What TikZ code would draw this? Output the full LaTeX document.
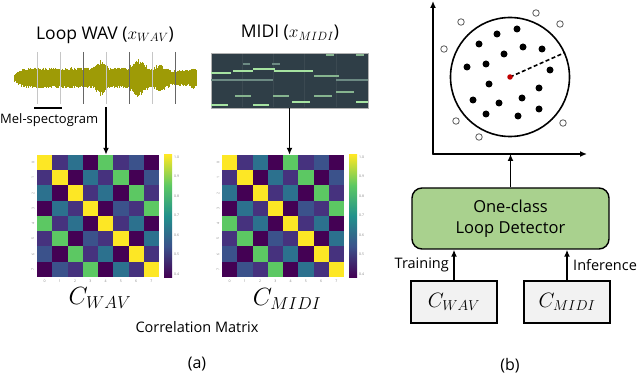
\documentclass[tikz,border=0pt]{standalone}
\usepackage{fontspec}
\setmainfont{Open Sans}
\usepackage{tikz}
\usetikzlibrary{arrows.meta,positioning,calc}
\definecolor{vir0}{HTML}{440154}
\definecolor{vir1}{HTML}{46327E}
\definecolor{vir2}{HTML}{3B528B}
\definecolor{vir3}{HTML}{2C718E}
\definecolor{virmid}{HTML}{21918C}
\definecolor{vir4}{HTML}{5CC863}
\definecolor{vir5}{HTML}{FDE725}
\definecolor{wavegold}{HTML}{9E9B06}
\definecolor{rollbg}{HTML}{2F3E47}
\definecolor{notehi}{HTML}{A6E3A1}
\definecolor{notemid}{HTML}{86B48F}
\definecolor{notelo}{HTML}{6C8A83}
\definecolor{detgreen}{HTML}{A9D18E}
\definecolor{boxgrey}{HTML}{F2F2F2}
\definecolor{centre}{HTML}{C00000}
\pgfdeclareverticalshading{viridisbar}{100bp}{color(0bp)=(vir0); color(25bp)=(vir0); color(37.5bp)=(vir2); color(50bp)=(virmid); color(62.5bp)=(vir4); color(75bp)=(vir5); color(100bp)=(vir5)}

\begin{document}
\begin{tikzpicture}[x=1pt, y=-1pt,
  arr/.style={line width=1.8pt, -{Latex[length=7pt,width=6pt]}},
  head/.style={font=\fontsize{17.5}{20}\selectfont},
  lbl/.style={font=\fontsize{14.5}{16}\selectfont},
  tick/.style={font=\fontsize{3.5}{4}\selectfont, text=gray, inner sep=0pt},
  cname/.style={font=\fontsize{23}{25}\selectfont},
  matbox/.style={inner sep=0pt, minimum size=122pt},
  rollbox/.style={fill=rollbg, draw=gray!60, line width=0.4pt, minimum width=157pt, minimum height=55pt, inner sep=0pt},
  detector/.style={draw, line width=1.4pt, fill=detgreen, rounded corners=10pt, minimum width=197pt, minimum height=61pt, align=center, font=\fontsize{16.5}{21}\selectfont},
  cbox/.style={draw, line width=1.3pt, fill=boxgrey, minimum width=86pt, minimum height=42pt, font=\fontsize{20}{22}\selectfont},
  inlier/.style={circle, fill=black, inner sep=0pt, minimum size=7pt},
  outlier/.style={circle, draw=gray!70!black, fill=white, line width=0.8pt, inner sep=0pt, minimum size=6.5pt}
]
  \useasboundingbox (0,0) rectangle (640,374);

  % (a) loop waveform
  \node[head] (wavtitle) at (105,35) {Loop WAV ($x_{WAV}$)};
  \pgfmathsetseed{42}
  \foreach \x in {14,14.7,...,197} {
    \pgfmathsetmacro{\env}{((\x<24) ? (3+(\x-14)*0.8) : ((\x>170) ? 8 : 10.5)) + 8*max(0,1-abs(\x-101)/8) + 10*max(0,1-abs(\x-138)/11) + 4*max(0,1-abs(\x-160)/7) + 4*max(0,1-abs(\x-193)/4)}
    \pgfmathsetmacro{\up}{\env*(0.72+0.28*rnd)}
    \pgfmathsetmacro{\dn}{\env*(0.72+0.28*rnd)}
    \draw[wavegold, line width=1pt] (\x,78-\up) -- (\x,78+\dn);
  }
  \foreach \bx/\bc in {37/gray!45, 60/gray!45, 83/gray!80!black, 106/gray!45, 129/gray!80!black, 152/gray!45, 175/gray!80!black}
    \draw[\bc, line width=1pt] (\bx,52) -- (\bx,104);
  \draw[line width=1.7pt] (34,108) -- (62,108);
  \node[anchor=west, inner sep=0pt, font=\fontsize{13}{15}\selectfont] (mel) at (0,120) {Mel-spectogram};
  \coordinate (wavtap) at (106,107);

  % (a) piano roll
  \node[head] (midititle) at (290,33) {MIDI ($x_{MIDI}$)};
  \node[rollbox] (roll) at (289.5,80.5) {};
  \foreach \gx in {242,273,304,336}
    \draw[white, opacity=0.06, line width=0.4pt] (\gx,53.5) -- (\gx,107.5);
  \foreach \ax/\bx/\ny/\nc in {243/250/64/notelo, 272/280/64/notelo, 253/275/69/notehi, 233/253/71/notehi, 274/313/71/notehi, 211/231/73/notehi, 211/273/80/notelo, 314/339/76/notemid, 336/368/80/notelo, 336/354/92/notemid, 235/251/96/notemid, 273/289/96/notemid, 314/332/96/notemid, 292/310/102/notehi, 356/368/102/notehi, 211/228/105/notehi, 253/269/105/notehi, 326/334/55/notemid, 356/364/55/notemid}
    \draw[\nc, line width=1.8pt] (\ax,\ny) -- (\bx,\ny);

  % (a) correlation matrices
  \node[matbox] (matwav) at (98,216) {};
  \node[matbox] (matmidi) at (283,216) {};
  \foreach \mx in {37,222} {
    \foreach \row [count=\r from 0] in {{5,1,3,0,4,1,2,0},{1,5,0,3,1,4,0,2},{3,0,5,1,3,0,4,1},{0,3,1,5,0,2,1,4},{4,1,3,0,5,1,3,0},{1,4,0,2,1,5,0,3},{2,0,4,1,3,0,5,1},{0,2,1,4,0,3,1,5}} {
      \foreach \v [count=\c from 0] in \row
        \fill[vir\v] ({\mx+\c*15.25},{155+\r*15.25}) rectangle ++(15.25,15.25);
    }
    \foreach \k in {0,...,7} {
      \node[tick] at ({\mx+7.6+\k*15.25},281) {\k};
      \node[tick, rotate=90] at ({\mx-4},{162.6+\k*15.25}) {\k};
    }
    \shade[shading=viridisbar] ({\mx+127},155) rectangle ({\mx+135},277);
    \foreach \t [count=\i from 0] in {1.0,0.9,0.8,0.7,0.6,0.5,0.4}
      \node[tick, anchor=west] at ({\mx+137},{157+\i*19.5}) {\t};
  }
  \draw[arr] (wavtap) -- (wavtap |- matwav.north);
  \draw[arr] (roll.south) -- (roll.south |- matmidi.north);
  \node[cname] (cwavname) at (100,298) {$C_{WAV}$};
  \node[cname] (cmidiname) at (287,299) {$C_{MIDI}$};
  \node[lbl] (corr) at (197,327) {Correlation Matrix};
  \node[font=\fontsize{16}{18}\selectfont] (capa) at (197,364) {(a)};

  % (b) feature space
  \coordinate (origin) at (433,154);
  \coordinate (ytip) at (433,1);
  \coordinate (xtip) at (587,154);
  \draw[arr, line cap=round] (origin) -- (ytip);
  \draw[arr, line cap=round] (origin) -- (xtip);
  \node[circle, draw, line width=1.6pt, minimum size=119pt, inner sep=0pt] (ball) at (510,77) {};
  \foreach \px/\py in {497/34, 517/29, 479/44, 523/47, 542/49, 504/54, 467/67, 486/64, 550/70, 489/84, 539/88, 473/100, 499/103, 522/98, 539/109, 486/114, 518/116}
    \node[inlier] at (\px,\py) {};
  \foreach \px/\py in {461/22, 536/13, 560/24, 444/49, 456/121, 563/123, 479/137}
    \node[outlier] at (\px,\py) {};
  \draw[line width=1.6pt, dash pattern=on 4pt off 2.5pt] (ball.center) -- (ball.24);
  \node[circle, fill=centre, inner sep=0pt, minimum size=5.5pt] (ctr) at (ball.center) {};

  % (b) detector
  \node[detector] (det) at (510.5,218.5) {One-class\\Loop Detector};
  \node[cbox] (cwav) at (454,302) {$C_{WAV}$};
  \node[cbox] (cmidi) at (567,302) {$C_{MIDI}$};
  \draw[arr] (det.north) -- (det.north |- origin);
  \draw[arr] (cwav.north) -- node[left, lbl, xshift=-1pt] {Training} (cwav.north |- det.south);
  \draw[arr] (cmidi.north) -- node[right, lbl, xshift=2pt] {Inference} (cmidi.north |- det.south);
  \node[font=\fontsize{16}{18}\selectfont] (capb) at (510,366) {(b)};
\end{tikzpicture}
\end{document}
